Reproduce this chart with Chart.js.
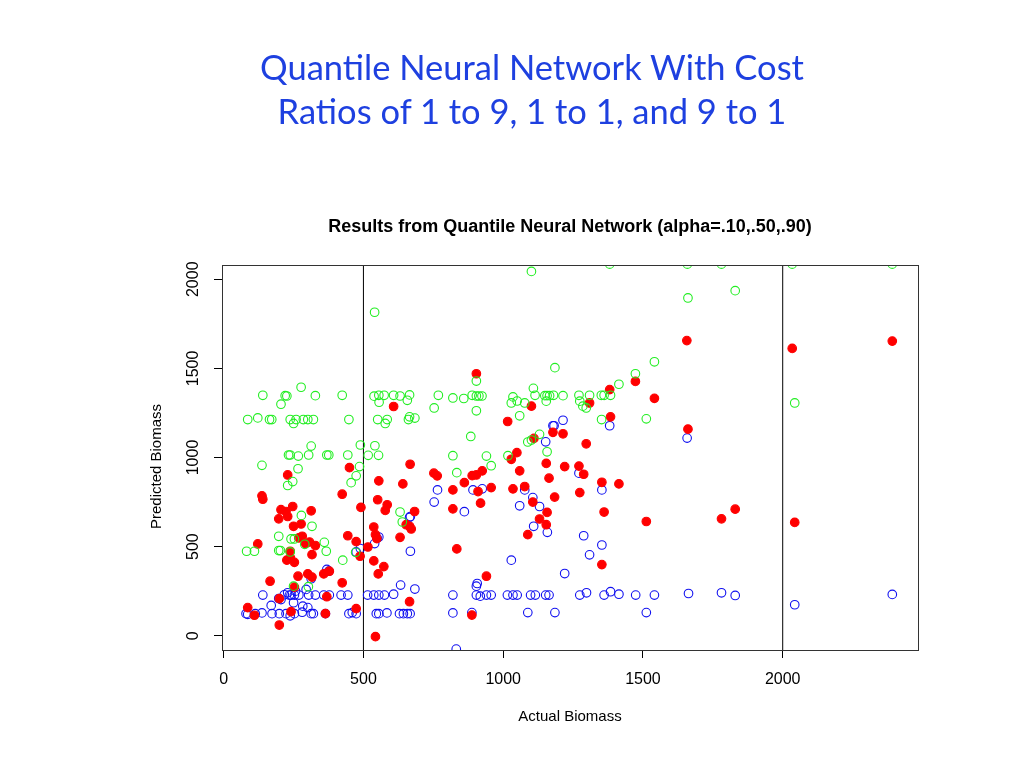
<!DOCTYPE html>
<html>
<head>
<meta charset="utf-8">
<script src="https://cdn.jsdelivr.net/npm/chart.js@4/dist/chart.umd.min.js"></script>
<style>
  body { margin: 0; background: #fff; }
  #wrap { position: relative; width: 1024px; height: 768px; overflow: hidden; }
  #myChart { position: absolute; left: 0; top: 0; }
  .t { position: absolute; white-space: nowrap; }
  #head { left: 0; width: 1064px; top: 45px; text-align: center; font-family: Lato, "Open Sans", sans-serif;
          font-size: 34.5px; line-height: 44px; color: #1E40E0; }
  #sub { left: 222px; width: 696px; top: 216px; text-align: center; font-family: "Liberation Sans", Arial, sans-serif;
         font-weight: bold; font-size: 18px; color: #000; }
  #xlab { left: 222px; width: 696px; top: 707px; text-align: center; font-family: "Liberation Sans", Arial, sans-serif;
          font-size: 15px; }
</style>
</head>
<body>
<div id="wrap">
  <canvas id="myChart" width="1024" height="768"></canvas>
  <div class="t" id="head">Quantile Neural Network With Cost<br>Ratios of 1 to 9, 1 to 1, and 9 to 1</div>
  <div class="t" id="sub">Results from Quantile Neural Network (alpha=.10,.50,.90)</div>
  <div class="t" id="xlab">Actual Biomass</div>
</div>
<script>
// tick labels
const xTicks = [0, 500, 1000, 1500, 2000];
const yTicks = [0, 500, 1000, 1500, 2000];
const yTitle = 'Predicted Biomass';
// vertical reference lines
const vLines = [500, 2000];

// alpha = .90 (green open circles)  [actual, predicted]
const q90 = [
  [540,1815],[277,1394],[140,1349],[220,1347],[226,1345],[328,1347],[424,1349],[205,1299],[538,1344],[555,1349],
  [574,1349],[556,1310],[608,1349],[631,1345],[665,1351],[657,1321],[768,1349],[753,1278],[820,1334],[859,1331],
  [86,1213],[122,1222],[164,1213],[172,1213],[238,1213],[259,1213],[285,1213],[301,1213],[321,1213],[448,1213],
  [250,1191],[551,1213],[578,1191],[585,1213],[665,1228],[661,1213],[684,1221],[884,1118],
  [313,1064],[489,1070],[541,1066],
  [232,1014],[238,1014],[267,1008],[304,1014],[369,1014],[376,1014],[444,1014],[517,1012],[554,1012],[820,1010],
  [137,956],[266,937],[486,949],[474,897],[456,859],[247,865],[229,843],[834,915],[278,675],[316,614],
  [197,558],[241,543],[253,543],[290,513],[360,524],[82,474],[110,474],[197,478],[203,478],[238,470],
  [367,474],[426,424],[472,468],[631,694],[639,638],[250,278],[303,275],
  [1101,2044],[1381,2085],[1661,1895],[1185,1504],[1541,1537],[1473,1470],[1414,1411],[904,1429],[1108,1388],[1114,1349],
  [889,1349],[904,1345],[913,1345],[924,1345],[1035,1340],[1029,1306],[1050,1317],[1077,1306],[1149,1347],[1157,1347],
  [1166,1347],[1180,1349],[1214,1347],[1154,1316],[1271,1349],[1274,1316],[1309,1349],[1285,1288],[1297,1278],[1351,1349],
  [1361,1349],[1384,1349],[904,1262],[1059,1234],[1352,1213],[1512,1217],[1130,1130],[1088,1087],[1101,1098],[1157,1032],
  [940,1008],[1017,1010],[957,954],
  [1830,1936],[1659,2085],[1781,2085],[2034,2085],[2392,2085],[2043,1306]
];

// alpha = .50 (red filled circles)
const q50 = [
  [608,1286],[229,902],[450,943],[667,962],[555,869],[641,852],[752,912],[764,897],[861,859],[820,818],
  [137,785],[140,766],[424,794],[551,763],[585,735],[578,703],[491,720],[820,712],[683,697],[205,707],
  [223,697],[247,725],[313,701],[229,669],[197,656],[277,627],[250,614],[537,610],[665,614],[671,599],
  [653,623],[444,561],[269,549],[281,558],[293,517],[307,526],[328,506],[543,567],[548,545],[631,552],
  [474,528],[122,515],[316,455],[238,474],[516,498],[488,446],[226,424],[239,437],[253,412],[537,420],
  [573,388],[553,347],[266,334],[301,347],[316,329],[358,347],[378,362],[166,306],[424,297],[253,273],
  [199,208],[241,135],[369,219],[665,191],[474,152],[86,158],[110,115],[364,124],[199,60],[543,-5],[834,487],
  [904,1470],[1657,1656],[1101,1288],[1309,1306],[1381,1381],[1473,1427],[1541,1332],[1384,1228],[1016,1202],[1178,1141],
  [1214,1133],[1110,1107],[1297,1077],[1049,1027],[1029,990],[1661,1159],
  [1154,967],[1059,925],[1220,949],[1271,952],[1288,906],[889,898],[904,902],[925,925],[910,809],[957,831],
  [1035,824],[1077,837],[1164,884],[1184,778],[1274,803],[1353,861],[1414,852],[919,744],[1106,750],[1157,692],
  [1130,655],[1154,623],[1088,567],[1361,694],[1512,641],[1353,399],[940,334],[888,116],
  [2034,1612],[2392,1653],[1830,710],[1781,656],[2043,636]
];

// alpha = .10 (blue open circles)
const q10 = [
  [765,818],[753,750],[861,696],[665,664],[668,669],[555,554],[549,548],[540,517],[489,489],[474,470],
  [668,474],[369,372],[376,362],[313,320],[295,260],[257,250],[633,284],[684,262],
  [140,228],[197,209],[205,203],[217,230],[229,241],[235,228],[241,228],[253,228],[269,228],[304,228],
  [328,228],[358,228],[378,228],[420,228],[444,228],[515,228],[537,228],[555,228],[575,228],[608,233],[820,228],
  [250,185],[170,170],[283,166],[301,158],
  [80,124],[86,120],[113,124],[137,128],[173,124],[199,124],[223,124],[238,112],[253,124],[281,132],
  [313,124],[321,124],[364,124],[448,124],[460,130],[474,124],[546,124],[555,124],[584,128],[629,124],
  [643,124],[657,124],[667,124],[820,128],[832,-75],
  [1178,1178],[1182,1178],[1214,1209],[1381,1178],[1152,1088],[1658,1109],
  [892,818],[925,824],[1077,818],[1271,912],[1353,818],[1059,729],[1106,775],[1130,725],[1109,614],[1158,580],
  [1288,561],[1353,509],[1309,454],[1029,424],[1220,349],[904,278],[907,293],
  [904,228],[918,222],[940,228],[957,228],[1015,228],[1035,228],[1050,228],[1098,228],[1115,228],[1152,228],
  [1164,228],[1274,228],[1298,241],[1361,228],[1384,247],[1414,233],[1474,228],[1541,228],[1663,237],
  [888,130],[1088,130],[1185,130],[1512,130],
  [1781,241],[1830,226],[2043,174],[2392,232]
];

const toPts = arr => arr.map(p => ({ x: p[0], y: p[1] }));

// draws box around plot region, rotated y tick labels and y title (like R)
const boxPlugin = {
  id: 'boxPlugin',
  afterDraw(chart) {
    const ctx = chart.ctx, a = chart.chartArea;
    ctx.save();
    ctx.strokeStyle = '#333';
    ctx.lineWidth = 1;
    ctx.strokeRect(Math.round(a.left) + 0.5, Math.round(a.top) + 0.5,
                   Math.round(a.right - a.left), Math.round(a.bottom - a.top));
    const ys = chart.scales.y;
    ctx.fillStyle = '#000';
    ctx.font = '16px "Liberation Sans", Arial, sans-serif';
    ctx.textAlign = 'center';
    ctx.textBaseline = 'middle';
    yTicks.forEach(v => {
      ctx.save();
      ctx.translate(194, ys.getPixelForValue(v));
      ctx.rotate(-Math.PI / 2);
      ctx.fillText(String(v), 0, 0);
      ctx.restore();
    });
    ctx.font = '15px "Liberation Sans", Arial, sans-serif';
    ctx.translate(157, (a.top + a.bottom) / 2 + 9);
    ctx.rotate(-Math.PI / 2);
    ctx.fillText(yTitle, 0, 0);
    ctx.restore();
  }
};

const circle = (color, fill) => ({
  type: 'scatter',
  pointStyle: 'circle',
  pointRadius: 4.3,
  pointHoverRadius: 4.3,
  borderWidth: 1.1,
  borderColor: color,
  backgroundColor: fill
});

const datasets = [
  Object.assign(circle('#22EE22', 'rgba(0,0,0,0)'), { label: 'alpha=.90', data: toPts(q90) }),
  Object.assign(circle('#FF0000', '#FF0000'), { label: 'alpha=.50', data: toPts(q50) }),
  Object.assign(circle('#1010F0', 'rgba(0,0,0,0)'), { label: 'alpha=.10', data: toPts(q10) })
];
vLines.forEach(v => {
  datasets.push({
    type: 'line', label: 'v' + v,
    data: [{ x: v, y: -80 }, { x: v, y: 2080 }],
    borderColor: '#000', borderWidth: 1, pointRadius: 0, fill: false
  });
});

new Chart(document.getElementById('myChart'), {
  type: 'scatter',
  data: { datasets },
  options: {
    responsive: false,
    animation: false,
    layout: { padding: { top: 265, right: 106, left: 0, bottom: 0 } },
    plugins: { legend: { display: false }, tooltip: { enabled: false }, title: { display: false } },
    scales: {
      x: {
        type: 'linear', min: -6, max: 2484,
        afterBuildTicks: s => { s.ticks = xTicks.map(v => ({ value: v })); },
        afterFit: s => { s.height = 118; },
        grid: { drawOnChartArea: false, drawTicks: true, tickLength: 8, color: '#000' },
        border: { display: true, color: '#333' },
        ticks: { color: '#000', padding: 12, callback: v => String(v),
                 font: { family: '"Liberation Sans", Arial, sans-serif', size: 16 } }
      },
      y: {
        type: 'linear', min: -80, max: 2080,
        afterBuildTicks: s => { s.ticks = yTicks.map(v => ({ value: v })); },
        afterFit: s => { s.width = 222; },
        grid: { drawOnChartArea: false, drawTicks: true, tickLength: 8, color: '#000' },
        border: { display: true, color: '#333' },
        ticks: { display: false }
      }
    }
  },
  plugins: [boxPlugin]
});
</script>
</body>
</html>
